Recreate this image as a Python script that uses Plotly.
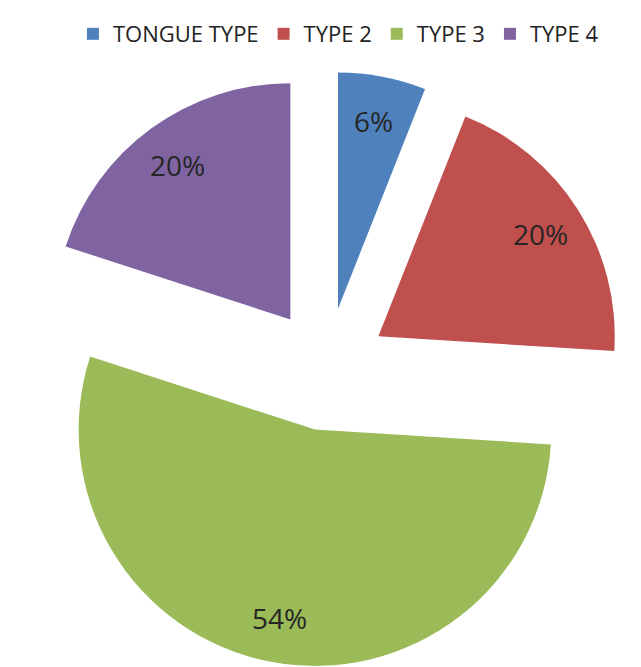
import math
import plotly.graph_objects as go

# Pie data: categories in clockwise order from 12 o'clock
categories = ["TONGUE TYPE", "TYPE 2", "TYPE 3", "TYPE 4"]
shares = [6, 20, 54, 20]
colors = ["#4F81BD", "#C0504D", "#9BBB59", "#8064A2"]

W, H = 641, 667
PULL = 0.26
LABEL_R = 0.81          # label distance from a slice's own tip, as fraction of radius
dom_x = [26.5 / W, 626.5 / W]
dom_y = [0.0, 1 - 71.4 / H]

fig = go.Figure(
    go.Pie(
        labels=categories,
        values=shares,
        sort=False,
        direction="clockwise",
        rotation=0,
        pull=[PULL] * len(shares),
        marker=dict(colors=colors, line=dict(width=0)),
        textinfo="none",
        hoverinfo="label+percent",
        domain=dict(x=dom_x, y=dom_y),
    )
)

# Same geometry plotly uses to size the pie, so labels sit inside each slice
box_w = (dom_x[1] - dom_x[0]) * W
box_h = (dom_y[1] - dom_y[0]) * H
r = min(box_w, box_h) / (2 + 2 * PULL)
cx = (dom_x[0] + dom_x[1]) / 2 * W
cy = (dom_y[0] + dom_y[1]) / 2 * H  # measured upward

total = sum(shares)
cum = 0.0
for v in shares:
    mid = math.radians((cum + v / 2) / total * 360)
    cum += v
    dist = (PULL + LABEL_R) * r
    px = cx + dist * math.sin(mid)
    py = cy + dist * math.cos(mid)
    fig.add_annotation(
        x=px / W, y=py / H, xref="paper", yref="paper",
        text=f"{round(v / total * 100)}%", showarrow=False,
        xanchor="center", yanchor="middle",
        font=dict(family="Open Sans", size=28, color="#262626"),
    )

fig.update_layout(
    width=W, height=H,
    margin=dict(l=0, r=0, t=0, b=0),
    paper_bgcolor="white",
    plot_bgcolor="white",
    showlegend=True,
    legend=dict(
        orientation="h",
        x=0.528, xanchor="center",
        y=1 - 34 / H, yanchor="middle",
        font=dict(family="Open Sans", size=22, color="#222222"),
        traceorder="normal",
        itemwidth=30,
    ),
)

fig.write_html("out.html")
